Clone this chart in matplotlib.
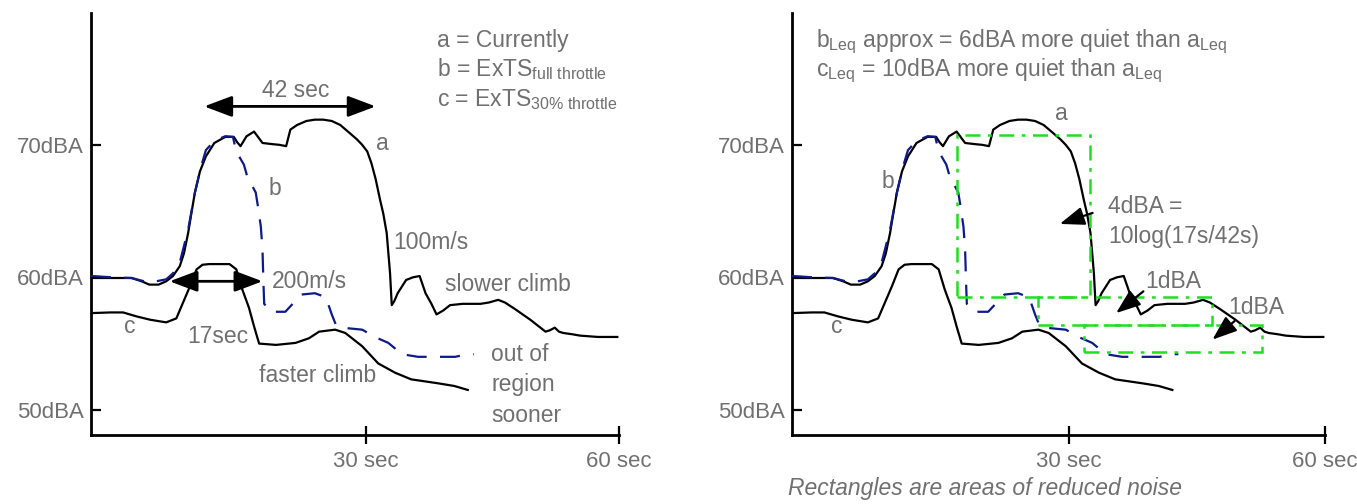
import matplotlib
matplotlib.use("Agg")
import matplotlib.pyplot as plt
from matplotlib.patches import Rectangle

# ---------------- data (seconds, dBA) ----------------
a_t = [-2.5, 0, 2.3, 3.5, 4.4, 5.5, 6.4, 7.2, 8.0, 8.5, 9.0, 9.4, 9.8, 10.4, 11.1, 12.1,
       13.4, 14.4, 14.8, 15.2, 15.9, 16.8, 17.8, 19.0, 19.8, 20.6, 21.1, 21.9, 23.0, 24.0,
       25.0, 26.0, 27.0, 28.1, 29.0, 29.6, 30.2, 30.7, 31.2, 31.7, 32.1, 32.5, 32.9, 33.1,
       33.4, 33.8, 34.8, 35.6, 36.4, 37.1, 37.8, 38.4, 39.2, 40.0, 41.5, 43.6, 44.6, 45.7,
       46.5, 47.7, 49.5, 51.3, 51.8, 52.4, 52.9, 53.4, 54.5, 55.4, 57.5, 59.8]
a_db = [59.95, 59.95, 59.95, 59.7, 59.45, 59.45, 59.7, 60.1, 60.83, 61.8, 63.35, 64.9, 66.4,
        68.0, 69.13, 70.14, 70.6, 70.6, 70.2, 69.9, 70.64, 71.0, 70.14, 70.05, 70.0, 69.9,
        71.15, 71.5, 71.8, 71.9, 71.9, 71.8, 71.5, 70.9, 70.4, 70.0, 69.5, 68.6, 67.4, 65.9,
        64.8, 63.35, 60.3, 57.9, 58.2, 58.8, 59.8, 60.0, 60.1, 58.8, 58.0, 57.2, 57.5, 57.9,
        58.0, 58.0, 58.1, 58.3, 58.1, 57.6, 56.8, 55.9, 56.0, 56.2, 55.9, 55.8, 55.7, 55.6,
        55.5, 55.5]

b_t = [-2.5, 0, 2.3, 4.4, 6.4, 7.2, 8.0, 9.0, 9.8, 10.5, 11.1, 12.1, 13.4, 14.3, 14.7, 15.6,
       16.0, 17.0, 17.2, 17.6, 17.8, 17.9, 18.0, 18.8, 20.5, 22.4, 24.0, 25.3, 26.0, 26.5,
       27.2, 29.6, 31.1, 32.7, 34.3, 36.2, 38.1, 40.6, 42.1, 42.8]
b_db = [60.1, 60.0, 59.95, 59.6, 59.85, 60.3, 61.1, 63.6, 66.4, 68.3, 69.6, 70.3, 70.65, 70.6,
        69.5, 68.5, 67.6, 66.4, 65.6, 63.85, 62.1, 59.8, 58.0, 57.4, 57.4, 58.7, 58.8, 58.5,
        57.2, 56.4, 56.2, 56.05, 55.5, 55.05, 54.2, 54.0, 54.0, 54.0, 54.2, 54.2]

c_t = [-2.5, -0.2, 1.3, 2.9, 4.5, 6.4, 7.6, 8.4, 9.2, 10.0, 10.7, 11.5, 13.9, 14.7, 15.4,
       16.2, 16.8, 17.4, 19.4, 21.7, 23.3, 24.5, 26.4, 27.6, 29.6, 31.5, 33.5, 35.4, 38.6,
       40.5, 42.1]
c_db = [57.3, 57.35, 57.35, 57.05, 56.8, 56.6, 56.9, 58.1, 59.3, 60.6, 60.95, 61.0, 61.0,
        60.6, 59.1, 57.7, 56.3, 55.0, 54.9, 55.05, 55.4, 55.9, 56.05, 55.8, 54.8, 53.5, 52.8,
        52.3, 52.0, 51.8, 51.5]

# rectangles of reduced noise (right panel)
rect_t0 = [16.9, 26.4, 31.7]
rect_t1 = [32.5, 46.7, 52.6]
rect_lo = [58.52, 56.38, 54.34]
rect_hi = [70.77, 58.52, 56.38]

xticks = [30, 60]
xticklabels = ["30 sec", "60 sec"]
yticks = [50, 60, 70]
yticklabels = ["50dBA", "60dBA", "70dBA"]

# ---------------- style ----------------
FONT = "Liberation Sans"
plt.rcParams["font.family"] = [FONT, "DejaVu Sans"]
plt.rcParams["mathtext.fontset"] = "custom"
plt.rcParams["mathtext.rm"] = FONT
plt.rcParams["mathtext.it"] = FONT + ":italic"
GRAY = "#707070"
GREEN = "#1ee01e"
NAVY = "#0d1a8a"
FS = 16.5
TFS = 16

W, H = 1357, 504
fig = plt.figure(figsize=(W / 100, H / 100), dpi=100)


def make_ax(x0, x1, y0=13, y1=435):
    ax = fig.add_axes([x0 / W, 1 - y1 / H, (x1 - x0) / W, (y1 - y0) / H])
    ax.set_xlim(-2.5, 60)
    ax.set_ylim(48.1, 79.95)
    for s in ["top", "right"]:
        ax.spines[s].set_visible(False)
    for s in ["left", "bottom"]:
        ax.spines[s].set_linewidth(2.0)
    ax.set_xticks(xticks)
    ax.set_xticklabels(xticklabels)
    ax.set_yticks(yticks)
    ax.set_yticklabels(yticklabels)
    ax.tick_params(axis="y", direction="in", length=7, width=1.6, labelsize=TFS,
                   labelcolor=GRAY, pad=5)
    ax.tick_params(axis="x", direction="inout", length=13, width=1.6, labelsize=TFS,
                   labelcolor=GRAY, pad=5)
    ax.patch.set_alpha(0)
    ax.plot(a_t, a_db, color="black", lw=1.6, zorder=3)
    ax.plot(c_t, c_db, color="black", lw=1.6, zorder=3)
    ax.plot(b_t, b_db, color=NAVY, lw=1.6, ls=(0, (9, 6)), zorder=4)
    return ax


def label(ax, x, y, s, **kw):
    kw.setdefault("ha", "left")
    kw.setdefault("va", "center")
    ax.text(x, y, s, fontsize=FS, color=GRAY, **kw)


# ---------------- left panel ----------------
axL = make_ax(91, 619)

axL.text(38.4, 77.4, "a = Currently", fontsize=FS, color=GRAY, va="baseline")
axL.text(38.4, 75.15, r"b = ExTS$_{\mathrm{full\ throttle}}$", fontsize=FS, color=GRAY,
         va="baseline")
axL.text(38.4, 72.9, r"c = ExTS$_{\mathrm{30\%\ throttle}}$", fontsize=FS, color=GRAY,
         va="baseline")

arrow2 = dict(arrowstyle="<|-|>,head_length=0.85,head_width=0.32", lw=2, color="black",
              shrinkA=0, shrinkB=0, mutation_scale=20)
axL.annotate("", xy=(31.2, 72.9), xytext=(10.9, 72.9), arrowprops=arrow2)
label(axL, 21.7, 74.1, "42 sec", ha="center")
axL.annotate("", xy=(17.8, 59.7), xytext=(6.8, 59.7), arrowprops=arrow2)
label(axL, 12.5, 55.5, "17sec", ha="center")
label(axL, 18.9, 59.7, "200m/s")
label(axL, 33.3, 62.6, "100m/s")
label(axL, 39.4, 59.45, "slower climb")
label(axL, 17.4, 52.6, "faster climb")
label(axL, 44.9, 54.2, "out of")
label(axL, 44.9, 51.9, "region")
label(axL, 44.9, 49.6, "sooner")
label(axL, 31.2, 70.1, "a")
label(axL, 18.5, 66.7, "b")
label(axL, 1.4, 56.3, "c")

# ---------------- right panel ----------------
axR = make_ax(792, 1325)

for t0, t1, lo, hi in zip(rect_t0, rect_t1, rect_lo, rect_hi):
    axR.add_patch(Rectangle((t0, lo), t1 - t0, hi - lo, fill=False, ec=GREEN, lw=1.8,
                            ls=(0, (6, 3, 1.5, 3)), zorder=5))

axR.text(0.3, 77.4, r"b$_{\mathrm{Leq}}$ approx = 6dBA more quiet than a$_{\mathrm{Leq}}$",
         fontsize=FS, color=GRAY, va="baseline")
axR.text(0.3, 75.15, r"c$_{\mathrm{Leq}}$ = 10dBA more quiet than a$_{\mathrm{Leq}}$",
         fontsize=FS, color=GRAY, va="baseline")

arrow1 = dict(arrowstyle="-|>,head_length=0.75,head_width=0.28", lw=1.6, color="black",
              shrinkA=0, shrinkB=0, mutation_scale=20)
axR.annotate("", xy=(28.9, 64.03), xytext=(32.75, 64.86), arrowprops=arrow1, zorder=6)
label(axR, 34.6, 65.36, "4dBA =")
label(axR, 34.6, 63.1, "10log(17s/42s)")
axR.annotate("", xy=(35.5, 57.3), xytext=(38.7, 58.94), arrowprops=arrow1, zorder=6)
label(axR, 38.9, 59.7, "1dBA")
axR.annotate("", xy=(46.8, 55.3), xytext=(49.4, 56.7), arrowprops=arrow1, zorder=6)
label(axR, 48.6, 57.7, "1dBA")
label(axR, 28.3, 72.4, "a")
label(axR, 8.0, 67.25, "b")
label(axR, 2.1, 56.3, "c")

fig.text(985 / W, 1 - 488 / H, "Rectangles are areas of reduced noise", fontsize=FS,
         color=GRAY, style="italic", ha="center", va="center")

fig.savefig("out.png", dpi=100)
